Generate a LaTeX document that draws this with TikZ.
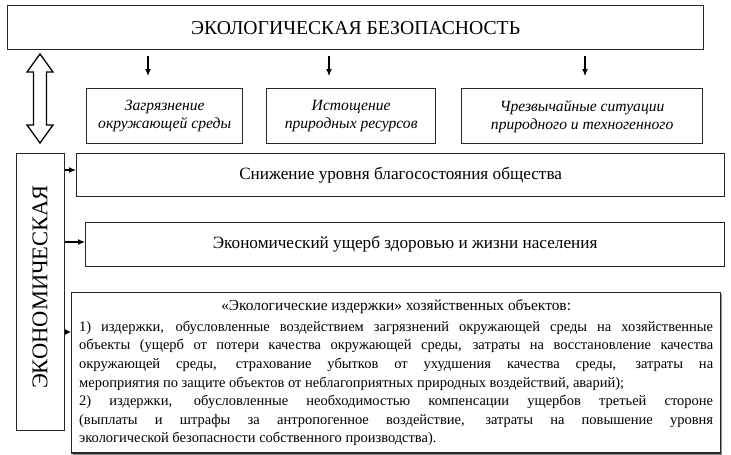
\documentclass[tikz,border=0pt]{standalone}
\usepackage{fontspec}
\setmainfont{Liberation Serif}
\usetikzlibrary{arrows.meta,shadows}
\begin{document}
\begin{tikzpicture}[x=1pt,y=-1pt,
  box/.style={draw=black!85,line width=1.3pt,anchor=north west,inner sep=2pt},
  itbox/.style={box,align=center,font=\fontsize{15.6}{18}\selectfont\itshape},
  arr/.style={line width=1.1pt,-{Latex[length=7pt,width=6pt]}}]
\useasboundingbox (0,0) rectangle (731,455);
\node[box,minimum width=696pt,minimum height=44pt,font=\fontsize{19.7}{22}\selectfont] (top) at (7,5) {ЭКОЛОГИЧЕСКАЯ БЕЗОПАСНОСТЬ};
\node[itbox,minimum width=156pt,minimum height=55pt] (b1) at (86,88) {Загрязнение\\окружающей среды};
\node[itbox,minimum width=169pt,minimum height=55pt] (b2) at (266,88) {Истощение\\природных ресурсов};
\node[itbox,minimum width=241pt,minimum height=55pt] (b3) at (461,88) {Чрезвычайные ситуации\\природного и техногенного};
\node[box,minimum width=48pt,minimum height=277pt] (vert) at (16,153) {};
\node[rotate=90,font=\fontsize{22.5}{24}\selectfont] (vtext) at (40,287) {ЭКОНОМИЧЕСКАЯ};
\node[box,minimum width=648pt,minimum height=43pt,font=\fontsize{17.2}{19}\selectfont] (s1) at (76,153) {Снижение уровня благосостояния общества};
\node[box,minimum width=639pt,minimum height=44pt,font=\fontsize{17.2}{19}\selectfont] (s2) at (85,222) {Экономический ущерб здоровью и жизни населения};
\node[box,minimum width=649pt,minimum height=158pt,fill=white,
  drop shadow={shadow xshift=1.8pt,shadow yshift=-1.8pt,fill=black!55,opacity=0.8},
  text width=634pt,align=justify,inner sep=7pt,
  font=\fontsize{14.5}{18.6}\selectfont] (s3) at (71,292) {%
\vspace*{2pt}\makebox[\linewidth][c]{\fontsize{15.4}{18.6}\selectfont «Экологические издержки» хозяйственных объектов:}\par
\noindent 1) издержки, обусловленные воздействием загрязнений окружающей среды на хозяйственные\linebreak
объекты (ущерб от потери качества окружающей среды, затраты на восстановление качества\linebreak
окружающей среды, страхование убытков от ухудшения качества среды, затраты на\linebreak
мероприятия по защите объектов от неблагоприятных природных воздействий, аварий);\par
\noindent 2) издержки, обусловленные необходимостью компенсации ущербов третьей стороне\linebreak
(выплаты и штрафы за антропогенное воздействие, затраты на повышение уровня\linebreak
экологической безопасности собственного производства).};
% down arrows
\coordinate (a1s) at (148,56); \coordinate (a1e) at (148,76);
\coordinate (a2s) at (329,56); \coordinate (a2e) at (329,76);
\coordinate (a3s) at (585,56); \coordinate (a3e) at (585,76);
\draw[arr] (a1s) -- (a1e);
\draw[arr] (a2s) -- (a2e);
\draw[arr] (a3s) -- (a3e);
% side arrows
\coordinate (y1) at (0,170); \coordinate (y2) at (0,242); \coordinate (y3) at (0,332);
\draw[arr] (vert.east |- y1) -- (s1.west |- y1);
\draw[arr] (vert.east |- y2) -- (s2.west |- y2);
\draw[arr,-{Latex[length=6pt,width=6pt]}] (vert.east |- y3) -- (s3.west |- y3);
% hollow double arrow between top box and vertical box
\draw[line width=1.3pt,line join=miter,fill=white]
  (40,54) -- (53,72) -- (46.5,72) -- (46.5,125) -- (53,125) -- (40,143)
  -- (27,125) -- (33.5,125) -- (33.5,72) -- (27,72) -- cycle;
\end{tikzpicture}
\end{document}
